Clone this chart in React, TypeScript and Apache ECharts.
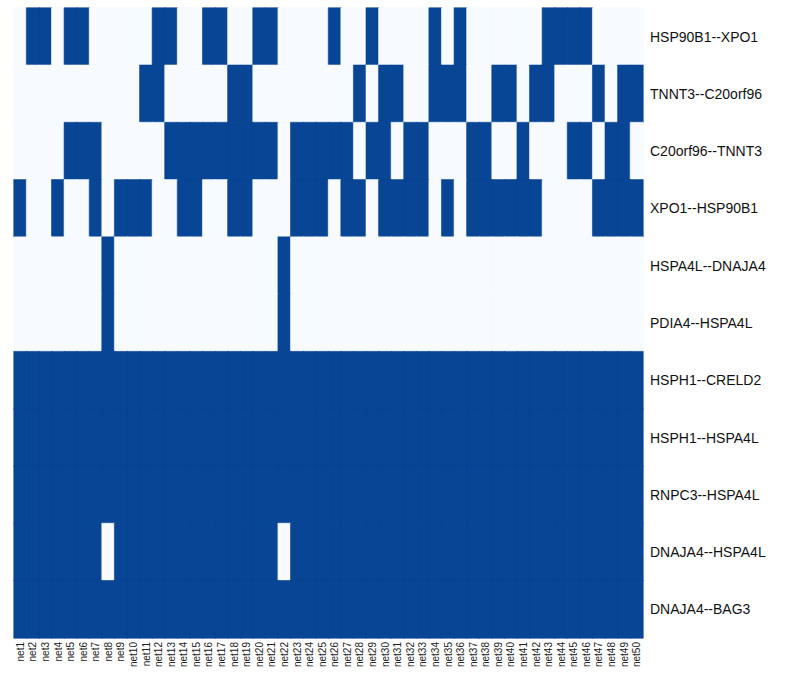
import React, { useEffect, useRef } from "react";
import * as echarts from "echarts";

// Network columns
const nets: string[] = Array.from({ length: 50 }, (_, i) => `net${i + 1}`);

// Gene pairs, top to bottom
const pairs: string[] = [
  "HSP90B1--XPO1",
  "TNNT3--C20orf96",
  "C20orf96--TNNT3",
  "XPO1--HSP90B1",
  "HSPA4L--DNAJA4",
  "PDIA4--HSPA4L",
  "HSPH1--CRELD2",
  "HSPH1--HSPA4L",
  "RNPC3--HSPA4L",
  "DNAJA4--HSPA4L",
  "DNAJA4--BAG3",
];

// Networks (1-based) in which each pair is present
const presentHSP90B1_XPO1 = [2, 3, 5, 6, 12, 13, 16, 17, 20, 21, 26, 29, 34, 36, 43, 44, 45, 46];
const presentTNNT3_C20orf96 = [11, 12, 18, 19, 28, 30, 31, 34, 35, 36, 39, 40, 42, 43, 47, 49, 50];
const presentC20orf96_TNNT3 = [5, 6, 7, 13, 14, 15, 16, 17, 18, 19, 20, 21, 23, 24, 25, 26, 27, 29, 30, 32, 33, 37, 38, 41, 45, 46, 48, 49];
const presentXPO1_HSP90B1 = [1, 4, 7, 9, 10, 11, 14, 15, 18, 19, 23, 24, 25, 27, 28, 30, 31, 32, 33, 35, 37, 38, 39, 40, 41, 42, 47, 48, 49, 50];
const presentHSPA4L_DNAJA4 = [8, 22];
const presentPDIA4_HSPA4L = [8, 22];
const absentDNAJA4_HSPA4L = [8, 22];

const allNets = nets.map((_, i) => i + 1);

const rowsPresent: number[][] = [
  presentHSP90B1_XPO1,
  presentTNNT3_C20orf96,
  presentC20orf96_TNNT3,
  presentXPO1_HSP90B1,
  presentHSPA4L_DNAJA4,
  presentPDIA4_HSPA4L,
  allNets,
  allNets,
  allNets,
  allNets.filter((n) => !absentDNAJA4_HSPA4L.includes(n)),
  allNets,
];

const ABSENT = "#f7fbff";
const PRESENT = "#084594";

export default function App() {
  const ref = useRef<HTMLDivElement>(null);

  useEffect(() => {
    if (!ref.current) return;
    const chart = echarts.init(ref.current, null, { renderer: "svg" });

    // A hairline border in the cell's own colour closes the seams
    // between neighbouring cells of the same state.
    const data: any[] = [];
    rowsPresent.forEach((present, r) => {
      nets.forEach((_, c) => {
        const v = present.includes(c + 1) ? 1 : 0;
        data.push({
          value: [c, r, v],
          itemStyle: { borderColor: v ? PRESENT : ABSENT, borderWidth: 0.6 },
        });
      });
    });

    chart.setOption({
      animation: false,
      backgroundColor: "#ffffff",
      grid: { left: 14, right: 160, top: 8, bottom: 35 },
      xAxis: {
        type: "category",
        data: nets,
        axisLine: { show: false },
        axisTick: { show: false },
        splitLine: { show: false },
        axisLabel: {
          interval: 0,
          rotate: 90,
          fontSize: 10,
          margin: 4,
          color: "#222",
          fontFamily: "Liberation Sans, Arial, sans-serif",
        },
      },
      yAxis: {
        type: "category",
        data: pairs,
        inverse: true,
        position: "right",
        axisLine: { show: false },
        axisTick: { show: false },
        splitLine: { show: false },
        axisLabel: {
          interval: 0,
          fontSize: 14,
          margin: 7,
          color: "#111",
          fontFamily: "Liberation Sans, Arial, sans-serif",
        },
      },
      visualMap: {
        show: false,
        type: "piecewise",
        dimension: 2,
        pieces: [
          { value: 0, color: ABSENT },
          { value: 1, color: PRESENT },
        ],
      },
      series: [
        {
          type: "heatmap",
          data,
          emphasis: { disabled: true },
        },
      ],
    });

    return () => chart.dispose();
  }, []);

  return (
    <div
      ref={ref}
      style={{ position: "fixed", left: 0, top: 0, width: 803, height: 673 }}
    />
  );
}
